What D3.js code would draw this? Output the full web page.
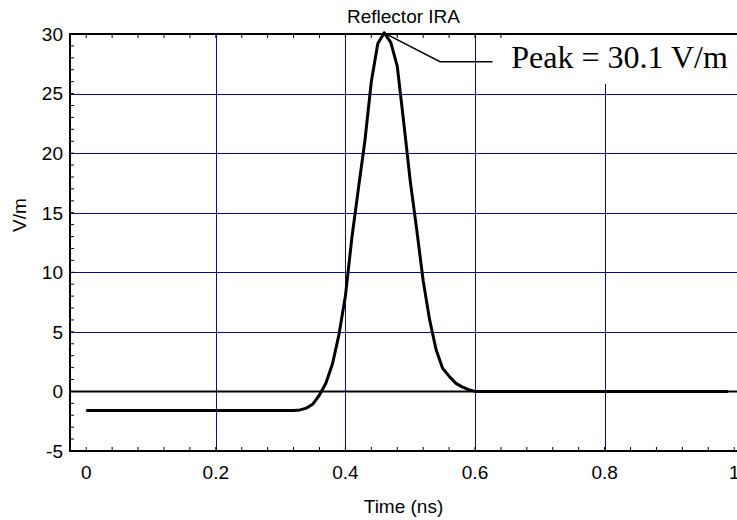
<!DOCTYPE html>
<html>
<head>
<meta charset="utf-8">
<script src="https://cdn.jsdelivr.net/npm/d3@7"></script>
<style>
  body { margin: 0; background: #fff; }
  text { font-family: "Liberation Sans", Arial, sans-serif; fill: #000; }
  .peak { font-family: "Liberation Serif", "Times New Roman", serif; }
</style>
</head>
<body>
<div id="container"></div>
<script>
// Reflector IRA radiated field vs time

// curve samples
var times = [0, 0.1, 0.2, 0.3, 0.32, 0.33, 0.34, 0.35, 0.36, 0.37, 0.38, 0.39,
  0.40, 0.41, 0.42, 0.43, 0.44, 0.45, 0.46, 0.47, 0.48, 0.49, 0.50, 0.51, 0.52,
  0.53, 0.54, 0.55, 0.56, 0.57, 0.58, 0.59, 0.60, 0.7, 0.8, 0.9, 0.99];
var field = [-1.6, -1.6, -1.6, -1.6, -1.6, -1.55, -1.4, -1.05, -0.3, 0.7, 2.3, 4.75,
  8.0, 12.9, 17.0, 21.0, 26.0, 29.2, 30.1, 29.3, 27.3, 22.6, 17.7, 13.6, 9.3,
  6.0, 3.5, 1.95, 1.28, 0.7, 0.38, 0.15, 0, 0, 0, 0, 0];

// tick labels
var xTicks = [0, 0.2, 0.4, 0.6, 0.8, 1];
var yTicks = [-5, 0, 5, 10, 15, 20, 25, 30];
var xGrid = [0.2, 0.4, 0.6, 0.8];
var yGrid = [5, 10, 15, 20, 25];

// peak annotation: leader line points (data units) and label
var peakLeader = [[0.461, 30.05], [0.546, 27.67], [0.627, 27.67]];
var peakText = "Peak = 30.1 V/m";

var W = 737, H = 520;
var margin = {top: 34, left: 70, bottom: 69};
var gridColor = '#0b0b94';

var svg = d3.select('#container').append('svg')
  .attr('width', W)
  .attr('height', H);

// scales: 0 at x=86, 1 at x=734
var x = d3.scaleLinear().domain([-0.025, 1.03]).range([margin.left, margin.left + 648 * 1.055]);
var y = d3.scaleLinear().domain([-5, 30]).range([H - margin.bottom, margin.top]);

var x0 = x.range()[0], x1 = W + 2;
var yb = y(-5), yt = y(30);

// grid lines
svg.append('g').selectAll('line')
  .data(xGrid)
  .enter().append('line')
  .attr('x1', d => Math.round(x(d)) + 0.5).attr('x2', d => Math.round(x(d)) + 0.5)
  .attr('y1', yt).attr('y2', yb)
  .attr('stroke', gridColor).attr('stroke-width', 1);

svg.append('g').selectAll('line')
  .data(yGrid)
  .enter().append('line')
  .attr('x1', x0).attr('x2', x1)
  .attr('y1', d => Math.round(y(d)) + 0.5).attr('y2', d => Math.round(y(d)) + 0.5)
  .attr('stroke', gridColor).attr('stroke-width', 1);

// zero line
svg.append('line')
  .attr('x1', x0).attr('x2', x1)
  .attr('y1', y(0)).attr('y2', y(0))
  .attr('stroke', '#000').attr('stroke-width', 2);

// inward ticks
var xMinor = d3.range(0, 1.0001, 0.04);
var yMinor = d3.range(-5, 30.0001, 1);

svg.append('g').selectAll('line')
  .data(xMinor)
  .enter().append('line')
  .attr('x1', d => x(d)).attr('x2', d => x(d))
  .attr('y1', yb).attr('y2', yb - 4)
  .attr('stroke', '#000').attr('stroke-width', 1);

svg.append('g').selectAll('line')
  .data(xMinor)
  .enter().append('line')
  .attr('x1', d => x(d)).attr('x2', d => x(d))
  .attr('y1', yt).attr('y2', yt + 4)
  .attr('stroke', '#000').attr('stroke-width', 1);

svg.append('g').selectAll('line')
  .data(yMinor)
  .enter().append('line')
  .attr('x1', x0).attr('x2', x0 + 4)
  .attr('y1', d => y(d)).attr('y2', d => y(d))
  .attr('stroke', '#000').attr('stroke-width', 1);

// the pulse
var pts = times.map((t, i) => [t, field[i]]);
var line = d3.line()
  .x(d => x(d[0]))
  .y(d => y(d[1]));

svg.append('path')
  .datum(pts)
  .attr('d', line)
  .attr('fill', 'none')
  .attr('stroke', '#000')
  .attr('stroke-width', 3)
  .attr('stroke-linejoin', 'round');

// white box behind the peak label (hides grid + top ticks)
svg.append('rect')
  .attr('x', x(0.645))
  .attr('y', yt)
  .attr('width', x1 - x(0.645))
  .attr('height', y(25.8) - yt)
  .attr('fill', '#fff');

svg.append('path')
  .datum(peakLeader)
  .attr('d', line)
  .attr('fill', 'none')
  .attr('stroke', '#000')
  .attr('stroke-width', 1.5);

svg.append('text')
  .attr('class', 'peak')
  .attr('x', x(0.656))
  .attr('y', 68)
  .style('font-size', '32px')
  .text(peakText);

// frame: left, bottom, top
svg.append('line').attr('x1', x0).attr('x2', x0).attr('y1', yt - 1).attr('y2', yb + 1)
  .attr('stroke', '#000').attr('stroke-width', 2);
svg.append('line').attr('x1', x0 - 1).attr('x2', x1).attr('y1', yb).attr('y2', yb)
  .attr('stroke', '#000').attr('stroke-width', 2);
svg.append('line').attr('x1', x0 - 1).attr('x2', x1).attr('y1', yt).attr('y2', yt)
  .attr('stroke', '#000').attr('stroke-width', 2);

// tick labels
svg.append('g').selectAll('text')
  .data(xTicks)
  .enter().append('text')
  .attr('x', d => x(d))
  .attr('y', 479)
  .attr('text-anchor', 'middle')
  .style('font-size', '19px')
  .text(d => d);

svg.append('g').selectAll('text')
  .data(yTicks)
  .enter().append('text')
  .attr('x', x0 - 7)
  .attr('y', d => y(d))
  .attr('dy', '0.36em')
  .attr('text-anchor', 'end')
  .style('font-size', '19px')
  .text(d => d);

// titles
var cx = (x0 + W) / 2;
svg.append('text')
  .attr('x', cx).attr('y', 23)
  .attr('text-anchor', 'middle')
  .style('font-size', '19px')
  .text('Reflector IRA');

svg.append('text')
  .attr('x', cx).attr('y', 513)
  .attr('text-anchor', 'middle')
  .style('font-size', '19px')
  .text('Time (ns)');

svg.append('text')
  .attr('transform', 'translate(26,215) rotate(-90)')
  .attr('text-anchor', 'middle')
  .style('font-size', '19px')
  .text('V/m');
</script>
</body>
</html>
